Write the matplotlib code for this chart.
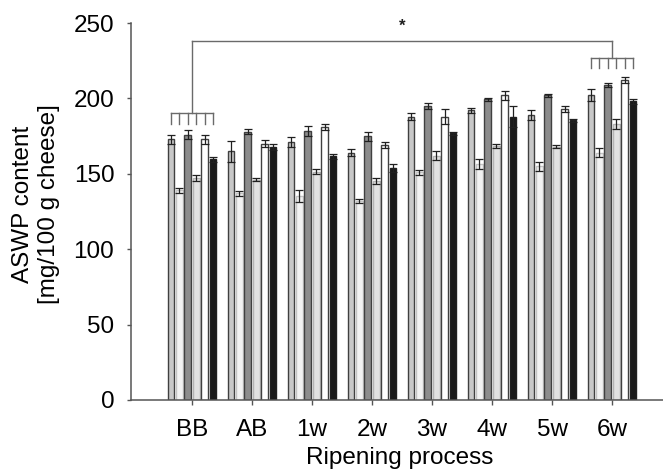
import numpy as np
import matplotlib
matplotlib.use('Agg')
import matplotlib.pyplot as plt

plt.rcParams['font.family'] = ['Liberation Sans', 'DejaVu Sans']

#stages of the ripening process (x categories)
groups = ['BB', 'AB', '1w', '2w', '3w', '4w', '5w', '6w']

#ASWP content per series, mg/100 g cheese, with error bars
s1 = [173, 165, 171, 164, 188, 192, 189, 202]
s1_err = [3, 7, 3.5, 2.5, 2.5, 1.5, 3, 4]
s2 = [139, 137, 135, 132, 151, 156.5, 155, 164]
s2_err = [1.5, 1.5, 4, 1.5, 1.5, 3, 3, 3]
s3 = [176, 178, 178.5, 175, 195, 199.5, 202, 209]
s3_err = [3, 1.5, 3.5, 3, 2, 1, 1, 1.5]
s4 = [147, 146, 151.5, 145, 162, 168.5, 168, 183]
s4_err = [2, 1, 1.5, 2, 3, 1.5, 1, 3.5]
s5 = [173, 170, 181, 169, 188, 202, 193, 212]
s5_err = [3, 2.5, 2, 2, 5, 3, 2, 2]
s6 = [159.5, 167.5, 161.5, 154, 177, 188, 185.5, 198]
s6_err = [1.5, 2, 1.5, 2.5, 1, 7, 1, 1.5]

series = [s1, s2, s3, s4, s5, s6]
errors = [s1_err, s2_err, s3_err, s4_err, s5_err, s6_err]

fills = ['#c8c8c8', '#f2f2f2', '#8c8c8c', '#e2e2e2', '#ffffff', '#1a1a1a']
edges = ['#404040', '#c4c4c4', '#404040', '#b4b4b4', '#404040', '#202020']

fig = plt.figure(figsize=(6.63, 4.70), dpi=100)
ax = fig.add_axes([0.1976, 0.149, 0.8024, 0.802])

x = np.arange(len(groups))
pitch = 0.14
width = 0.115
offsets = (np.arange(6) - 2.5) * pitch

for i in range(6):
    ax.bar(x + offsets[i], series[i], width, color=fills[i], edgecolor=edges[i],
           linewidth=1.0, zorder=2)
    ax.errorbar(x + offsets[i], series[i], yerr=errors[i], fmt='none',
                ecolor='#202020', elinewidth=0.9, capsize=3, capthick=0.9, zorder=3)

#significance bracket between BB and 6w
line_col = '#6a6a6a'
top_y = 238
ax.plot([x[0], x[-1]], [top_y, top_y], color=line_col, lw=1.0, clip_on=False)
for gi, comb_y, tooth_y in [(0, 190.5, 183), (7, 226.5, 220.5)]:
    ax.plot([x[gi], x[gi]], [top_y, comb_y], color=line_col, lw=1.0)
    ax.plot([x[gi] + offsets[0], x[gi] + offsets[-1]], [comb_y, comb_y], color=line_col, lw=1.0)
    for off in offsets:
        ax.plot([x[gi] + off, x[gi] + off], [comb_y, tooth_y], color=line_col, lw=1.0)
ax.text((x[0] + x[-1]) / 2, 248, '*', ha='center', va='center', fontsize=12,
        fontweight='bold', color='#202020', clip_on=False)

ax.set_xlim(-1.017, 7.85)
ax.set_ylim(0, 250)
ax.set_xticks(x)
ax.set_xticklabels(groups)
ax.set_yticks([0, 50, 100, 150, 200, 250])

for side in ['top', 'right']:
    ax.spines[side].set_visible(False)
for side in ['left', 'bottom']:
    ax.spines[side].set_color('#555555')
    ax.spines[side].set_linewidth(1.1)

ax.tick_params(axis='y', length=3, width=1, color='#555555', pad=9, labelsize=17.5)
ax.tick_params(axis='x', length=3.6, width=1, color='#555555', pad=10, labelsize=17.5)

fig.text(36 / 663, 1 - 204 / 470, 'ASWP content\n[mg/100 g cheese]', rotation=90,
         ha='center', va='center', multialignment='center', fontsize=17.5,
         linespacing=1.2)
fig.text(400 / 663, 1 - 447 / 470, 'Ripening process', ha='center', va='top', fontsize=17.5)

fig.savefig('out.png', dpi=100)
